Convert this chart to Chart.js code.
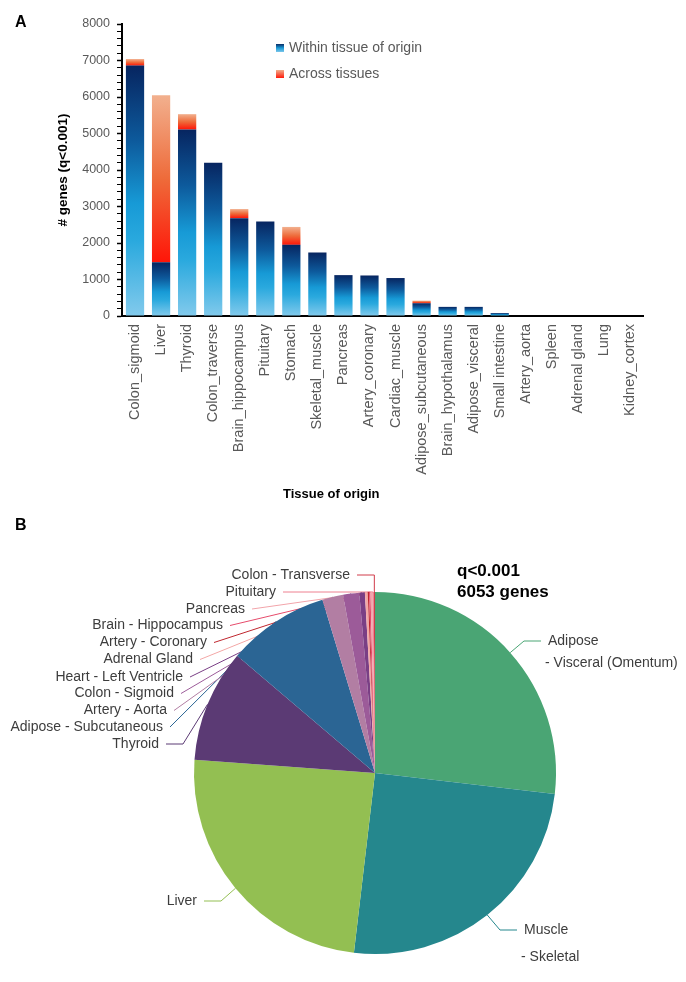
<!DOCTYPE html>
<html>
<head>
<meta charset="utf-8">
<script src="https://cdn.jsdelivr.net/npm/chart.js@4.4.1/dist/chart.umd.min.js"></script>
<style>
  body { margin: 0; background: #fff; font-family: 'Liberation Sans', Arial, sans-serif; }
  #page { position: relative; width: 686px; height: 982px; overflow: hidden; }
  .abs { position: absolute; white-space: nowrap; }
  .panel { font-weight: bold; font-size: 16px; color: #000; }
  .legend { font-size: 14px; color: #595959; line-height: 16px; }
  .legend i { display: inline-block; width: 8px; height: 8px; margin-right: 5px; vertical-align: 0px; }
</style>
</head>
<body>
<div id="page">
  <canvas id="bars" class="abs" width="686" height="510" style="left:0;top:0"></canvas>
  <canvas id="pie" class="abs" width="686" height="467" style="left:0;top:515px"></canvas>

  <div class="abs panel" style="left:15px;top:13px">A</div>
  <div class="abs panel" style="left:15px;top:516px">B</div>

  <div class="abs legend" style="left:276px;top:39px"><i style="background:linear-gradient(#0a2c66,#1a9ad6,#7cc6ea)"></i>Within tissue of origin</div>
  <div class="abs legend" style="left:276px;top:65px"><i style="background:linear-gradient(#f2ae8c,#ff1a0a)"></i>Across tissues</div>

  <div class="abs" style="left:283px;top:486px;font-weight:bold;font-size:13px;color:#000">Tissue of origin</div>

  <div class="abs" style="left:457px;top:560px;font-weight:bold;font-size:17px;line-height:21px;color:#000">q&lt;0.001<br>6053 genes</div>
</div>

<script>
// ---- panel A data ----
const tissues = ['Colon_sigmoid', 'Liver', 'Thyroid', 'Colon_traverse', 'Brain_hippocampus',
  'Pituitary', 'Stomach', 'Skeletal_muscle', 'Pancreas', 'Artery_coronary', 'Cardiac_muscle',
  'Adipose_subcutaneous', 'Brain_hypothalamus', 'Adipose_visceral', 'Small intestine',
  'Artery_aorta', 'Spleen', 'Adrenal gland', 'Lung', 'Kidney_cortex'];
const withinTissue = [6860, 1470, 5110, 4200, 2680, 2590, 1950, 1740, 1120, 1110, 1040, 350, 250, 250, 80, 0, 0, 0, 0, 0];
const acrossTissues = [180, 4580, 420, 0, 250, 0, 490, 0, 0, 0, 0, 70, 0, 0, 0, 0, 0, 0, 0, 0];
const yMax = 8000;
const yMajorStep = 1000;
const yMinorStep = 200;

// ---- panel B data ----
const pieTissues = ['Adipose - Visceral (Omentum)', 'Muscle - Skeletal', 'Liver', 'Thyroid',
  'Adipose - Subcutaneous', 'Artery - Aorta', 'Colon - Sigmoid', 'Heart - Left Ventricle',
  'Adrenal Gland', 'Artery - Coronary', 'Brain - Hippocampus', 'Pancreas', 'Pituitary',
  'Colon - Transverse'];
const pieGenes = [1625, 1514, 1471, 609, 550, 113, 87, 30, 15, 7, 8, 10, 7, 7];
const pieColors = ['#4aa574', '#25878d', '#93bf52', '#5b3a74', '#2b6594', '#b27ea3', '#9c5b99',
  '#7a3f85', '#f3a7a6', '#bf262e', '#e64b6b', '#f2a4aa', '#ee8090', '#d13c4b'];

const totals = withinTissue.map((v, i) => v + acrossTissues[i]);
const zeros = withinTissue.map(() => 0);

const blueStops = [[0, '#072560'], [0.3, '#0d5a9c'], [0.55, '#179ad6'], [0.7, '#2aa9de'], [1, '#82caec']];
const redStops = [[0, '#f2b08e'], [0.5, '#ee6b3a'], [1, '#ff1508']];

// one gradient per bar, spanning just that bar
function barGradient(c, stops, lows, highs) {
  if (c.type !== 'data' || !c.chart.chartArea) return stops[2][1];
  const y = c.chart.scales.y;
  const top = y.getPixelForValue(highs[c.dataIndex]);
  const bottom = y.getPixelForValue(lows[c.dataIndex]);
  if (bottom - top < 1) return stops[0][1];
  const g = c.chart.ctx.createLinearGradient(0, top, 0, bottom);
  stops.forEach(s => g.addColorStop(s[0], s[1]));
  return g;
}

const greyTick = '#595959';
const font = "'Liberation Sans', Arial, sans-serif";

new Chart(document.getElementById('bars'), {
  type: 'bar',
  data: {
    labels: tissues,
    datasets: [{
      label: 'Within tissue of origin',
      data: withinTissue,
      backgroundColor: c => barGradient(c, blueStops, zeros, withinTissue),
      barPercentage: 0.7,
      categoryPercentage: 1
    }, {
      label: 'Across tissues',
      data: acrossTissues,
      backgroundColor: c => barGradient(c, redStops, withinTissue, totals),
      barPercentage: 0.7,
      categoryPercentage: 1
    }]
  },
  options: {
    responsive: false,
    animation: false,
    layout: { padding: { top: 24, right: 43, left: 0, bottom: 0 } },
    plugins: { legend: { display: false }, tooltip: { enabled: false } },
    scales: {
      x: {
        stacked: true,
        grid: { display: false },
        border: { display: true, color: '#000', width: 2 },
        ticks: { color: greyTick, font: { family: font, size: 14.5 }, minRotation: 90, maxRotation: 90, autoSkip: false, padding: 0 },
        afterFit: s => { s.height = 194; }
      },
      y: {
        stacked: true,
        min: 0,
        max: yMax,
        grid: {
          drawOnChartArea: false,
          drawTicks: true,
          tickLength: 5,
          tickColor: '#000',
          tickWidth: c => (c.tick && c.tick.value % yMajorStep === 0 ? 1.5 : 1)
        },
        border: { display: true, color: '#000', width: 2 },
        ticks: {
          stepSize: yMinorStep,
          autoSkip: false,
          color: greyTick,
          padding: 7,
          font: { family: font, size: 12.5 },
          callback: v => (v % yMajorStep === 0 ? String(v) : '')
        },
        title: {
          display: true,
          text: '# genes (q<0.001)',
          color: '#000',
          font: { family: font, size: 13.5, weight: 'bold' },
          padding: { top: 55, bottom: 0 }
        },
        afterFit: s => { s.width = 122; }
      }
    }
  }
});

// label placement for the pie (canvas coordinates), one entry per slice
const pieLabelLayout = [
  { lines: ['Adipose', '- Visceral (Omentum)'], x: 548, y: 126, gap: 22, side: 'right', elbow: true },
  { lines: ['Muscle', '- Skeletal'], x: 524, y: 415, gap: 27, side: 'right', elbow: true },
  { lines: ['Liver'], x: 197, y: 386, side: 'left', elbow: true },
  { lines: ['Thyroid'], x: 159, y: 229, side: 'left', elbow: true },
  { lines: ['Adipose - Subcutaneous'], x: 163, y: 212, side: 'left' },
  { lines: ['Artery - Aorta'], x: 167, y: 195.5, side: 'left' },
  { lines: ['Colon - Sigmoid'], x: 174, y: 178.5, side: 'left' },
  { lines: ['Heart - Left Ventricle'], x: 183, y: 162, side: 'left' },
  { lines: ['Adrenal Gland'], x: 193, y: 144.5, side: 'left' },
  { lines: ['Artery - Coronary'], x: 207, y: 127.5, side: 'left' },
  { lines: ['Brain - Hippocampus'], x: 223, y: 110.5, side: 'left' },
  { lines: ['Pancreas'], x: 245, y: 94, side: 'left' },
  { lines: ['Pituitary'], x: 276, y: 77, side: 'left' },
  { lines: ['Colon - Transverse'], x: 350, y: 60, side: 'left', corner: true }
];

function edgePoint(arc) {
  const p = arc.getProps(['x', 'y', 'startAngle', 'endAngle', 'outerRadius'], true);
  const mid = (p.startAngle + p.endAngle) / 2;
  return { x: p.x + Math.cos(mid) * p.outerRadius, y: p.y + Math.sin(mid) * p.outerRadius };
}

const pieLabels = {
  id: 'pieLabels',
  // leader lines go under the slices, so they stop at the rim
  beforeDatasetsDraw(chart) {
    const ctx = chart.ctx;
    const arcs = chart.getDatasetMeta(0).data;
    ctx.save();
    ctx.lineWidth = 1;
    pieLabelLayout.forEach((L, i) => {
      const e = edgePoint(arcs[i]);
      const dir = L.side === 'left' ? 1 : -1;
      const sx = L.x + dir * 7;
      const pts = [[sx, L.y]];
      if (L.elbow) pts.push([sx + dir * 17, L.y]);
      if (L.corner) pts.push([e.x, L.y]);
      pts.push([e.x, e.y]);
      ctx.strokeStyle = pieColors[i];
      ctx.beginPath();
      pts.forEach((p, k) => (k ? ctx.lineTo(p[0], p[1]) : ctx.moveTo(p[0], p[1])));
      ctx.stroke();
    });
    ctx.restore();
  },
  afterDatasetsDraw(chart) {
    const ctx = chart.ctx;
    ctx.save();
    ctx.font = "14px 'Liberation Sans', Arial, sans-serif";
    ctx.fillStyle = '#3d3d3d';
    ctx.textBaseline = 'middle';
    pieLabelLayout.forEach(L => {
      ctx.textAlign = L.side === 'left' ? 'right' : 'left';
      L.lines.forEach((t, k) => {
        const dx = k > 0 && t.startsWith('-') ? -3 : 0;
        ctx.fillText(t, L.x + dx, L.y + k * (L.gap || 0));
      });
    });
    ctx.restore();
  }
};

new Chart(document.getElementById('pie'), {
  type: 'pie',
  data: {
    labels: pieTissues,
    datasets: [{ data: pieGenes, backgroundColor: pieColors, borderWidth: 0 }]
  },
  options: {
    responsive: false,
    animation: false,
    layout: { padding: { left: 194, right: 130, top: 77, bottom: 28 } },
    plugins: { legend: { display: false }, tooltip: { enabled: false } }
  },
  plugins: [pieLabels]
});
</script>
</body>
</html>
